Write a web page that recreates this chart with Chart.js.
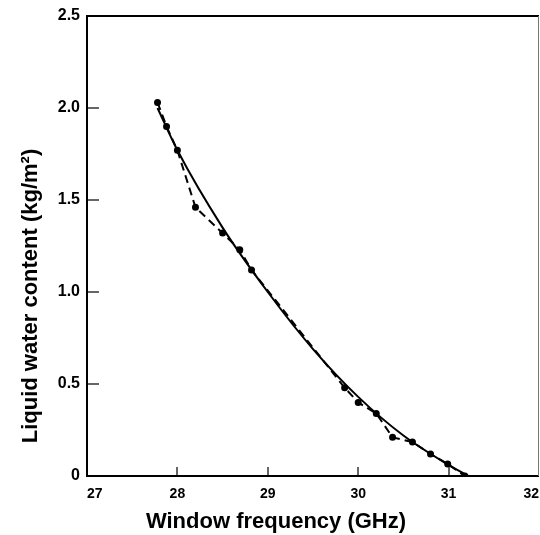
<!DOCTYPE html>
<html>
<head>
<meta charset="utf-8">
<script src="https://cdn.jsdelivr.net/npm/chart.js@4/dist/chart.umd.min.js"></script>
<style>
html,body{margin:0;padding:0;background:#fff;}
canvas{display:block;}
</style>
</head>
<body>
<canvas id="c" width="540" height="535"></canvas>
<script>
// Measured points (dashed line with markers)
const measuredFreq = [27.78, 27.88, 28.0, 28.2, 28.5, 28.69, 28.82, 29.85, 30.0, 30.2, 30.38, 30.6, 30.8, 30.99, 31.18];
const measuredLwc  = [2.03, 1.9, 1.77, 1.46, 1.32, 1.23, 1.12, 0.48, 0.40, 0.34, 0.21, 0.185, 0.12, 0.065, 0.0];
// Fitted curve (solid line)
const fitFreq = [27.78, 28.0, 28.5, 29.0, 29.5, 30.0, 30.5, 31.0, 31.22];
const fitLwc  = [2.0, 1.77, 1.35, 1.0, 0.69, 0.43, 0.22, 0.06, 0.0];
// Axis ticks
const xTicks = [27, 28, 29, 30, 31, 32];
const yTicks = [0, 0.5, 1.0, 1.5, 2.0, 2.5];
const xTitle = 'Window frequency (GHz)';
const yTitle = 'Liquid water content (kg/m\u00B2)';

const FONT = '"Liberation Sans", Arial, sans-serif';

const framePlugin = {
  id: 'frame',
  afterDraw(chart) {
    const ctx = chart.ctx;
    const a = chart.chartArea;
    const xs = chart.scales.x, ys = chart.scales.y;
    ctx.save();
    // inner ticks
    ctx.strokeStyle = '#333';
    ctx.lineWidth = 1.5;
    yTicks.forEach(v => {
      if (v === 0 || v === 2.5) return;
      const py = Math.round(ys.getPixelForValue(v));
      ctx.beginPath(); ctx.moveTo(a.left, py); ctx.lineTo(a.left + 12, py); ctx.stroke();
    });
    xTicks.forEach(v => {
      if (v === 27 || v === 32) return;
      const px = Math.round(xs.getPixelForValue(v));
      ctx.beginPath(); ctx.moveTo(px, a.bottom); ctx.lineTo(px, a.bottom - 9); ctx.stroke();
    });
    // frame
    ctx.strokeStyle = '#000';
    ctx.lineWidth = 2;
    ctx.beginPath();
    ctx.moveTo(a.left, a.top); ctx.lineTo(a.right, a.top);
    ctx.moveTo(a.left, a.top - 1); ctx.lineTo(a.left, a.bottom + 1);
    ctx.moveTo(a.left - 1, a.bottom); ctx.lineTo(a.right, a.bottom);
    ctx.stroke();
    ctx.strokeStyle = '#777';
    ctx.lineWidth = 1;
    ctx.beginPath();
    ctx.moveTo(a.right - 0.5, a.top); ctx.lineTo(a.right - 0.5, a.bottom);
    ctx.stroke();
    // titles
    ctx.fillStyle = '#000';
    ctx.font = 'bold 22px ' + FONT;
    ctx.textAlign = 'center';
    ctx.textBaseline = 'middle';
    ctx.fillText(xTitle, 276, 522);
    ctx.translate(31, 296);
    ctx.rotate(-Math.PI / 2);
    ctx.fillText(yTitle, 0, 0);
    ctx.restore();
  }
};

new Chart(document.getElementById('c'), {
  type: 'scatter',
  data: {
    datasets: [
      {
        label: 'fit',
        data: fitFreq.map((x, i) => ({x: x, y: fitLwc[i]})),
        showLine: true,
        borderColor: '#000',
        borderWidth: 2,
        pointRadius: 0,
        cubicInterpolationMode: 'monotone',
        fill: false
      },
      {
        label: 'measured',
        data: measuredFreq.map((x, i) => ({x: x, y: measuredLwc[i]})),
        showLine: true,
        borderColor: '#000',
        borderWidth: 2,
        borderDash: [8, 5],
        pointRadius: 2.5,
        pointBackgroundColor: '#000',
        pointBorderColor: '#000',
        tension: 0,
        fill: false
      }
    ]
  },
  options: {
    responsive: false,
    animation: false,
    events: [],
    layout: { autoPadding: false, padding: { top: 16, right: 1, left: 0, bottom: 0 } },
    plugins: { legend: { display: false }, tooltip: { enabled: false } },
    scales: {
      x: {
        type: 'linear',
        min: 27, max: 32,
        afterBuildTicks(s) { s.ticks = xTicks.map(v => ({value: v})); },
        afterFit(s) { s.height = 59; s.paddingLeft = 0; s.paddingRight = 0; },
        grid: { display: false, drawTicks: false },
        border: { display: false },
        ticks: {
          padding: 10,
          align: 'inner',
          color: '#000',
          font: { family: FONT, size: 14, weight: 'bold' },
          callback: v => String(v),
          maxRotation: 0
        }
      },
      y: {
        type: 'linear',
        min: 0, max: 2.5,
        afterBuildTicks(s) { s.ticks = yTicks.map(v => ({value: v})); },
        afterFit(s) { s.width = 87; s.paddingTop = 0; s.paddingBottom = 0; },
        grid: { display: false, drawTicks: false },
        border: { display: false },
        ticks: {
          padding: 7,
          color: '#000',
          font: { family: FONT, size: 16, weight: 'bold' },
          callback: v => v === 0 ? '0' : Number(v).toFixed(1)
        }
      }
    }
  },
  plugins: [framePlugin]
});
</script>
</body>
</html>
